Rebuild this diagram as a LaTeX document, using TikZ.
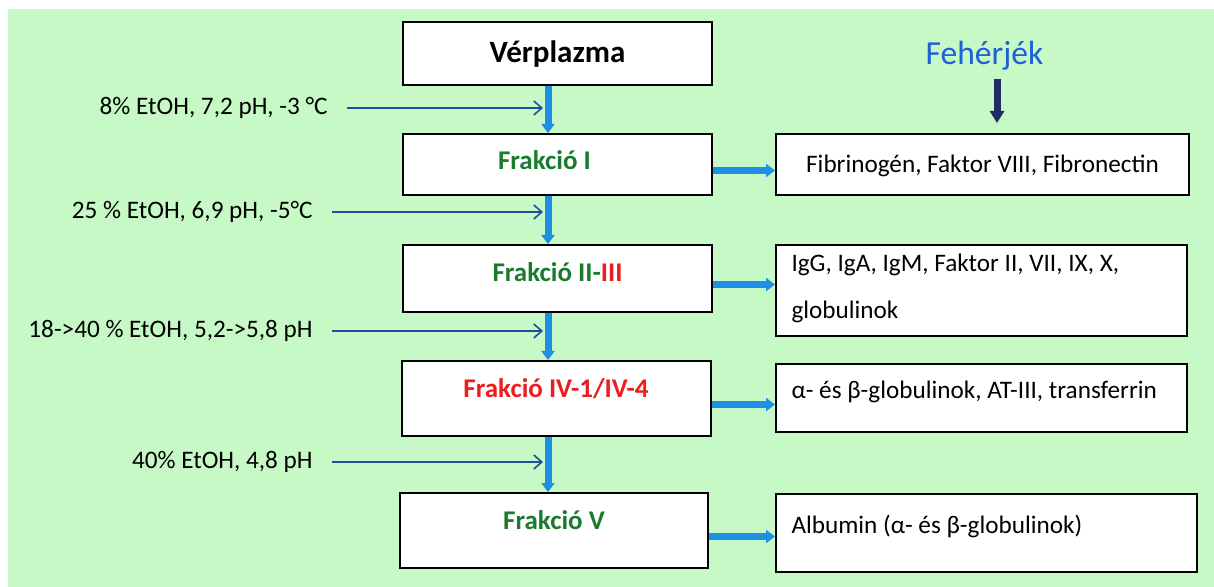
\documentclass[tikz,border=0pt]{standalone}
\usepackage{fontspec}
\setmainfont{Carlito}
\usetikzlibrary{arrows.meta, positioning}
\definecolor{bgGreen}{HTML}{C6F9C6}
\definecolor{flowBlue}{HTML}{1E8FE3}
\definecolor{feedBlue}{HTML}{1F4FA0}
\definecolor{protNavy}{HTML}{1F2A66}
\definecolor{fracGreen}{HTML}{1A7A2E}
\definecolor{fracRed}{HTML}{EE1C1C}
\definecolor{titleBlue}{HTML}{1F5FD8}

\begin{document}
\begin{tikzpicture}[x=0.5pt, y=-0.5pt,
    mainbox/.style={draw, line width=1pt, fill=white, minimum width=154.5pt,
      inner sep=0pt, text height=10pt, text=fracGreen,
      font=\fontsize{13.5}{16}\selectfont\bfseries},
    protbox/.style={draw, line width=1pt, fill=white, inner xsep=7.75pt, inner ysep=0pt,
      text height=10pt, align=flush left, font=\fontsize{12.6}{23.5}\selectfont},
    cond/.style={anchor=east, inner sep=0pt, font=\fontsize{12.6}{15}\selectfont},
    lift/.style={text depth=#1},
    flow/.style={flowBlue, line width=3.5pt, -{Triangle[width=6.5pt, length=4.5pt]}},
    feed/.style={feedBlue, line width=0.8pt, -{Straight Barb[width=7pt, length=4pt]},
      shorten <=9.5pt, shorten >=2.5pt}]
    \fill[bgGreen] (8,9) rectangle (1214,587);
    \useasboundingbox (0,0) rectangle (1214,587);
    \coordinate (col) at (548,0);
    \coordinate (fehx) at (997,0);

    % fractions
    \node[mainbox, minimum height=31.5pt, text=black, text height=11pt,
      font=\fontsize{15.5}{18}\selectfont\bfseries] (verp) at (557.5,54) {Vérplazma};
    \node[mainbox, minimum height=30.5pt, lift=4.8pt] (fr1) at (557.5,164.5)
      {Frakció I\rule{13pt}{0pt}};
    \node[mainbox, minimum height=33.5pt, lift=6.8pt] (fr2) at (557.5,278.5)
      {Frakció II-\textcolor{fracRed}{III}};
    \node[mainbox, minimum height=37.5pt, lift=10.8pt, text=fracRed] (fr4) at (556,398.5)
      {Frakció IV-1/IV-4};
    \node[mainbox, minimum width=154pt, minimum height=37.5pt, lift=10.8pt] (fr5)
      at (554,530.5) {Frakció V};

    % proteins
    \node[text=titleBlue, font=\fontsize{16.8}{19}\selectfont] (feh) at (984.5,56) {Fehérjék};
    \node[protbox, minimum width=206.5pt, minimum height=30.5pt, align=center] (p1)
      at (982.5,164.5) {Fibrinogén, Faktor VIII, Fibronectin};
    \node[protbox, text width=190pt, minimum height=45.5pt, lift=28.9pt] (p2)
      at (981.5,290.5) {IgG, IgA, IgM, Faktor II, VII, IX, X,\\globulinok};
    \node[protbox, text width=190pt, minimum height=34pt, lift=9.4pt] (p4)
      at (981.5,398) {α- és β-globulinok, AT-III, transferrin};
    \node[protbox, text width=195pt, minimum height=39pt, lift=9.4pt] (p5)
      at (986.5,533) {Albumin (α- és β-globulinok)};

    % conditions
    \node[cond] (c1) at (328,108) {8\% EtOH, 7,2 pH, -3 °C};
    \node[cond] (c2) at (313,212) {25 \% EtOH, 6,9 pH, -5°C};
    \node[cond] (c3) at (313,331) {18->40 \% EtOH, 5,2->5,8 pH};
    \node[cond] (c4) at (313,462) {40\% EtOH, 4,8 pH};

    \draw[flow] (verp.south -| col) -- (fr1.north -| col);
    \draw[flow] (fr1.south -| col) -- (fr2.north -| col);
    \draw[flow] (fr2.south -| col) -- (fr4.north -| col);
    \draw[flow] (fr4.south -| col) -- (fr5.north -| col);

    \draw[flow] ([yshift=-3pt]fr1.east) -- ([yshift=-3pt]fr1.east -| p1.west);
    \draw[flow] ([yshift=-3pt]fr2.east) -- ([yshift=-3pt]fr2.east -| p2.west);
    \draw[flow] ([yshift=-3pt]fr4.east) -- ([yshift=-3pt]fr4.east -| p4.west);
    \draw[flow] ([yshift=-3pt]fr5.east) -- ([yshift=-3pt]fr5.east -| p5.west);

    \foreach \c in {c1,c2,c3,c4}
      \draw[feed] (\c.east) -- (\c.east -| col);

    \draw[protNavy, line width=3.5pt, -{Triangle[width=7pt, length=6pt]},
      shorten <=0.5pt, shorten >=5pt] (feh.south -| fehx) -- (p1.north -| fehx);
\end{tikzpicture}
\end{document}
